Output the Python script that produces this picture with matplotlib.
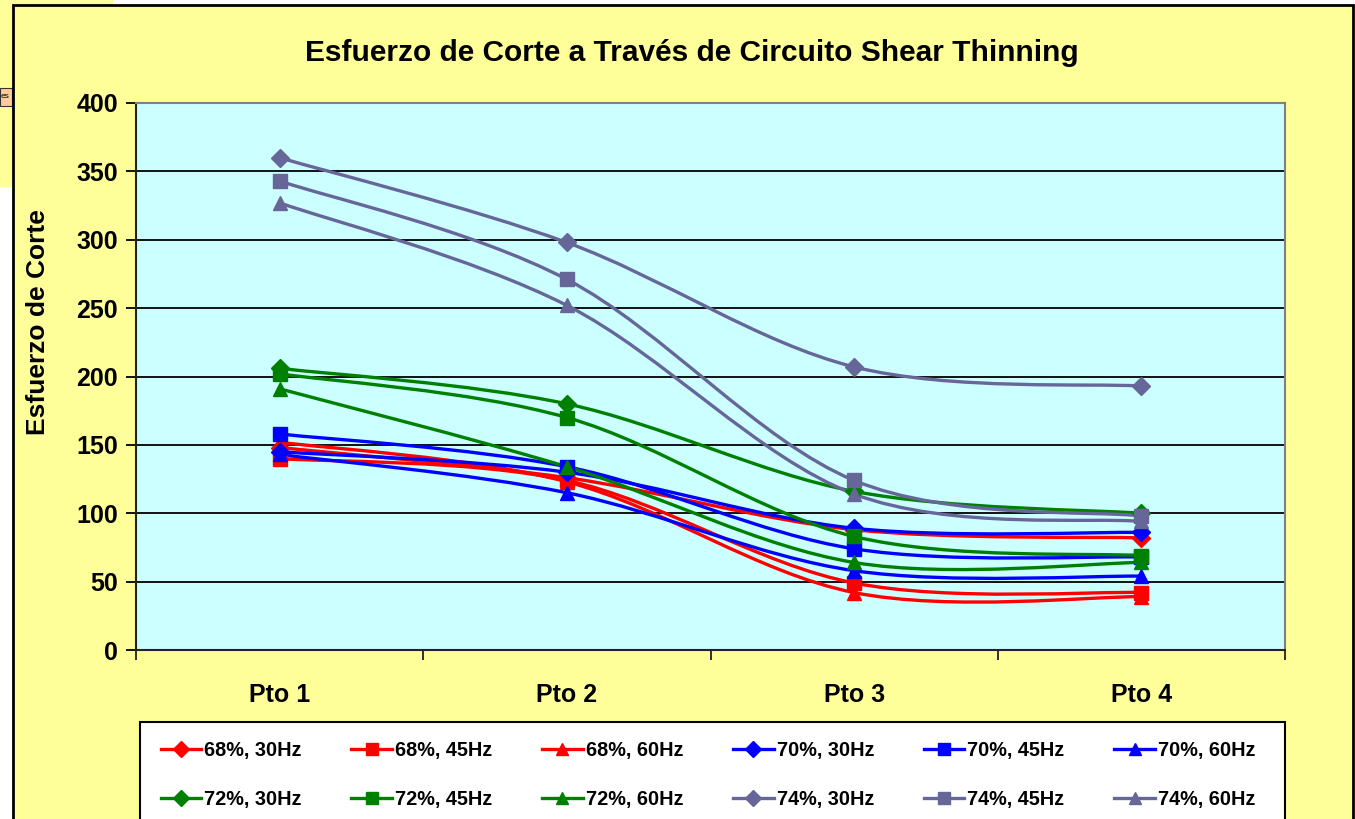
import numpy as np
import matplotlib
matplotlib.use("Agg")
import matplotlib.pyplot as plt
from matplotlib.path import Path
from matplotlib.patches import PathPatch, Rectangle
from matplotlib.lines import Line2D

plt.rcParams['font.family'] = ['Liberation Sans', 'DejaVu Sans']
plt.rcParams['font.weight'] = 'bold'

# data
puntos = ["Pto 1", "Pto 2", "Pto 3", "Pto 4"]
s68_30 = [148, 126, 88, 82]
s68_45 = [140, 124, 49, 42]
s68_60 = [152, 123, 42, 39]
s70_30 = [145, 130, 89, 86]
s70_45 = [158, 134, 74, 68]
s70_60 = [143, 115, 58, 54]
s72_30 = [206, 180, 116, 100]
s72_45 = [202, 170, 83, 69]
s72_60 = [191, 134, 64, 64]
s74_30 = [360, 298, 207, 193]
s74_45 = [343, 271, 124, 98]
s74_60 = [327, 252, 114, 94]

series = [
    ("68%, 30Hz", s68_30, '#FF0000', 'D'),
    ("68%, 45Hz", s68_45, '#FF0000', 's'),
    ("68%, 60Hz", s68_60, '#FF0000', '^'),
    ("70%, 30Hz", s70_30, '#0000FF', 'D'),
    ("70%, 45Hz", s70_45, '#0000FF', 's'),
    ("70%, 60Hz", s70_60, '#0000FF', '^'),
    ("72%, 30Hz", s72_30, '#008000', 'D'),
    ("72%, 45Hz", s72_45, '#008000', 's'),
    ("72%, 60Hz", s72_60, '#008000', '^'),
    ("74%, 30Hz", s74_30, '#666699', 'D'),
    ("74%, 45Hz", s74_45, '#666699', 's'),
    ("74%, 60Hz", s74_60, '#666699', '^'),
]
msize = {'D': 9, 's': 10, '^': 10}


def smooth_path(x, y):
    # excel-like smoothed line: cubic bezier with catmull-rom control points
    pts = np.column_stack([x, y]).astype(float)
    verts = [pts[0]]
    codes = [Path.MOVETO]
    n = len(pts)
    for i in range(n - 1):
        p0 = pts[max(i - 1, 0)]
        p1 = pts[i]
        p2 = pts[i + 1]
        p3 = pts[min(i + 2, n - 1)]
        c1 = p1 + (p2 - p0) / 6.0
        c2 = p2 - (p3 - p1) / 6.0
        verts += [c1, c2, p2]
        codes += [Path.CURVE4] * 3
    return Path(verts, codes)


fig = plt.figure(figsize=(13.55, 8.19), dpi=100)
fig.patch.set_facecolor('white')

# stray background pieces behind the chart
fig.patches.append(Rectangle((0, 1 - 187 / 819), 113 / 1355, 187 / 819, transform=fig.transFigure,
                             facecolor='#FFFF99', edgecolor='none', zorder=0))
fig.patches.append(Rectangle((0, 1 - 106 / 819), 12 / 1355, 18 / 819, transform=fig.transFigure,
                             facecolor='#FFCC99', edgecolor='#333333', lw=0.8, zorder=0))
fig.text(1 / 1355, 1 - 97 / 819, "es", fontsize=6, weight='normal', va='center', ha='left', zorder=1)

# chart area
fig.patches.append(Rectangle((13 / 1355, -0.01), 1340 / 1355, 1 - 5 / 819 + 0.01, transform=fig.transFigure,
                             facecolor='#FFFF99', edgecolor='black', lw=2, zorder=1))

ax = fig.add_axes([136 / 1355, 1 - 650 / 819, 1149 / 1355, 547 / 819], zorder=2)
ax.set_facecolor('#CCFFFF')
xs = np.arange(len(puntos)) + 0.5

for lbl, vals, col, mk in series:
    p = smooth_path(xs, vals)
    ax.add_patch(PathPatch(p, facecolor='none', edgecolor=col, lw=2.4, zorder=3))
    ax.plot(xs, vals, linestyle='none', marker=mk, color=col, markersize=msize[mk], zorder=4)

ax.set_xlim(0, 4)
ax.set_ylim(0, 400)
ax.set_yticks(np.arange(0, 401, 50))
ax.yaxis.grid(True, color='black', lw=1.3)
ax.set_axisbelow(True)
ax.set_xticks(xs)
ax.set_xticklabels(puntos)
ax.set_xticks(np.arange(0, 5), minor=True)
ax.tick_params(axis='x', which='major', length=0, pad=24, labelsize=18)
ax.tick_params(axis='x', which='minor', length=7, width=1.3, color='#222222')
ax.tick_params(axis='y', length=7, width=1.3, labelsize=18, pad=6)
for t in ax.get_xticklabels() + ax.get_yticklabels():
    t.set_fontweight('bold')
ax.spines['left'].set_color('#222222')
ax.spines['left'].set_linewidth(1.5)
ax.spines['bottom'].set_color('#222222')
ax.spines['bottom'].set_linewidth(1.5)
ax.spines['top'].set_color('#808080')
ax.spines['right'].set_color('#808080')
ax.spines['top'].set_linewidth(1.5)
ax.spines['right'].set_linewidth(1.5)

ax.set_ylabel("Esfuerzo de Corte", fontsize=19, fontweight='bold')
ax.yaxis.set_label_coords((50 - 136) / 1149, (650 - 322) / 547)

fig.text(692 / 1355, 1 - 53 / 819, "Esfuerzo de Corte a Través de Circuito Shear Thinning",
         ha='center', va='center', fontsize=21.5, fontweight='bold', zorder=3)

# legend box
fig.patches.append(Rectangle((140 / 1355, -0.01), 1145 / 1355, (819 - 722) / 819 + 0.01,
                             transform=fig.transFigure, facecolor='white', edgecolor='black',
                             lw=1.5, zorder=2))
handles = {}
for lbl, vals, col, mk in series:
    handles[lbl] = Line2D([], [], color=col, lw=2.4, marker=mk, markersize=msize[mk] - 1)
labels = [s[0] for s in series]
order = []
for j in range(6):
    order += [labels[j], labels[j + 6]]
leg = fig.legend([handles[l] for l in order], order, ncol=6, frameon=False,
                 loc='center', bbox_to_anchor=(708 / 1355, 1 - 775 / 819),
                 prop={'weight': 'bold', 'size': 14.3}, handlelength=2.05, handletextpad=0.15,
                 columnspacing=2.5, labelspacing=1.55)
leg.set_zorder(5)

fig.savefig("out.png", dpi=100)
